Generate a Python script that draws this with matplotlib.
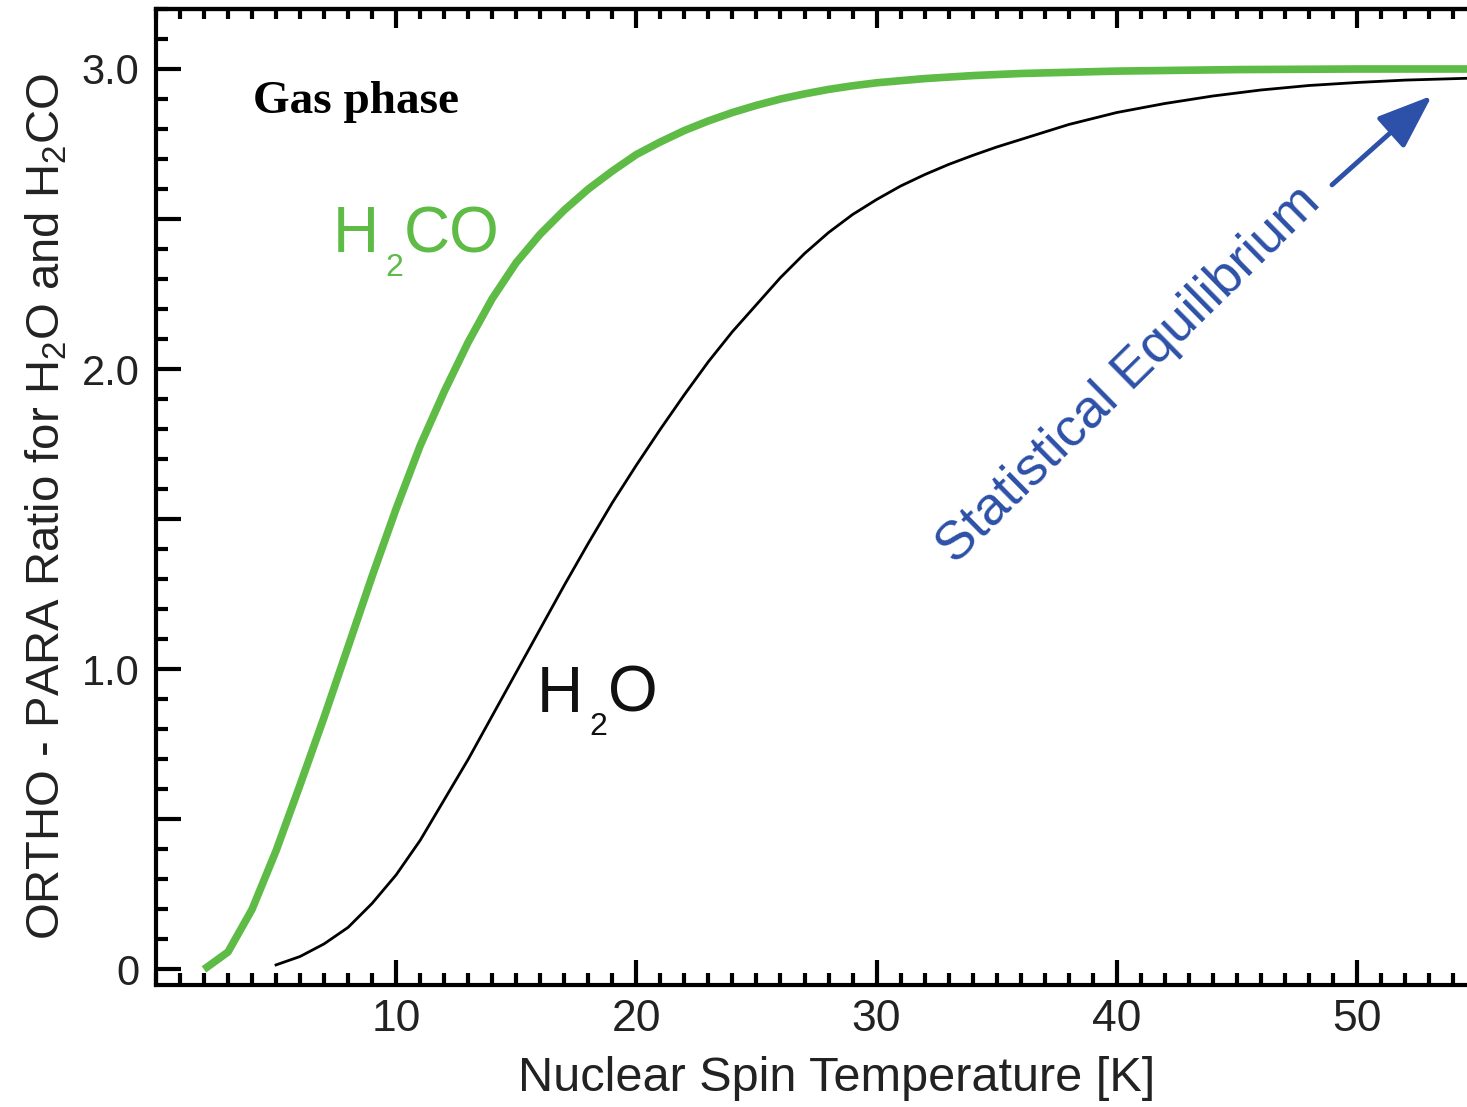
import numpy as np
import matplotlib
matplotlib.use("Agg")
import matplotlib.pyplot as plt
from matplotlib.ticker import MultipleLocator, FixedLocator, FuncFormatter

plt.rcParams["font.family"] = ["Liberation Sans", "DejaVu Sans"]

# ortho/para ratio vs nuclear spin temperature
temp_h2co = [2.0, 3.0, 4.0, 5.0, 6.0, 7.0, 8.0, 9.0, 10.0, 11.0, 12.0, 13.0,
             14.0, 15.0, 16.0, 17.0, 18.0, 19.0, 20.0, 21.0, 22.0, 23.0, 24.0,
             25.0, 26.0, 27.0, 28.0, 29.0, 30.0, 32.0, 34.0, 36.0, 40.0, 45.0,
             50.0, 55.0]
opr_h2co = [0.0, 0.058, 0.20, 0.395, 0.615, 0.84, 1.075, 1.31, 1.535, 1.745,
            1.925, 2.09, 2.235, 2.355, 2.45, 2.53, 2.60, 2.66, 2.715, 2.757,
            2.795, 2.827, 2.855, 2.879, 2.90, 2.917, 2.932, 2.944, 2.954,
            2.968, 2.978, 2.985, 2.993, 2.998, 3.0, 3.0]

temp_h2o = [5.0, 6.0, 7.0, 8.0, 9.0, 10.0, 11.0, 12.0, 13.0, 14.0, 15.0, 16.0,
            17.0, 18.0, 19.0, 20.0, 21.0, 22.0, 23.0, 24.0, 25.0, 26.0, 27.0,
            28.0, 29.0, 30.0, 31.0, 32.0, 33.0, 34.0, 35.0, 36.0, 38.0, 40.0,
            42.0, 44.0, 46.0, 48.0, 50.0, 52.0, 55.0]
opr_h2o = [0.015, 0.043, 0.085, 0.14, 0.22, 0.315, 0.43, 0.565, 0.70, 0.845,
           0.99, 1.135, 1.28, 1.42, 1.555, 1.68, 1.80, 1.915, 2.025, 2.125,
           2.215, 2.305, 2.385, 2.455, 2.515, 2.565, 2.61, 2.648, 2.682,
           2.712, 2.74, 2.765, 2.815, 2.855, 2.885, 2.91, 2.93, 2.945, 2.955,
           2.963, 2.97]

x_ticks = [10, 20, 30, 40, 50]
y_labelled = [0.0, 1.0, 2.0, 3.0]

GREEN = "#5dbb46"
BLUE = "#2d50a8"


def chem_label(ax, x, y, parts, size, color):
    """Draw a formula like H2O with real subscripts, piece by piece."""
    fig = ax.figure
    renderer = fig.canvas.get_renderer()
    dx = 0.0
    for s, sub in parts:
        if sub:
            t = ax.annotate(s, (x, y), xytext=(dx + size * 0.04, -size * 0.37),
                            textcoords="offset points", fontsize=size * 0.5,
                            ha="left", va="baseline", color=color)
        else:
            t = ax.annotate(s, (x, y), xytext=(dx, 0),
                            textcoords="offset points", fontsize=size,
                            ha="left", va="baseline", color=color)
        w = t.get_window_extent(renderer).width * 72.0 / fig.dpi
        dx += w + size * 0.06


fig = plt.figure(figsize=(14.67, 11.07), dpi=100)
ax = fig.add_axes([0.1063, 0.1102, 0.8937, 0.8817])

ax.plot(temp_h2co, opr_h2co, color=GREEN, lw=5.5, solid_capstyle="butt")
ax.plot(temp_h2o, opr_h2o, color="black", lw=2.0)

ax.set_xlim(0, 54.58)
ax.set_ylim(-0.052, 3.20)

for side in ("left", "bottom", "top"):
    ax.spines[side].set_linewidth(3)
ax.spines["right"].set_visible(False)

ax.xaxis.set_major_locator(FixedLocator(x_ticks))
ax.xaxis.set_minor_locator(MultipleLocator(1))
ax.yaxis.set_major_locator(MultipleLocator(0.5))
ax.yaxis.set_minor_locator(MultipleLocator(0.1))
ax.yaxis.set_major_formatter(FuncFormatter(
    lambda v, p: ("0" if abs(v) < 1e-9 else f"{v:.1f}")
    if any(abs(v - t) < 1e-9 for t in y_labelled) else ""))

ax.tick_params(which="major", direction="in", length=18, width=3,
               labelsize=30, labelcolor="#222222", top=False, right=False)
ax.tick_params(which="minor", direction="in", length=8.5, width=3,
               top=False, right=False)
ax.tick_params(axis="y", which="major", pad=12)
ax.tick_params(axis="x", which="major", pad=10, labelsize=32)

top = ax.secondary_xaxis("top")
top.xaxis.set_major_locator(FixedLocator(x_ticks))
top.xaxis.set_minor_locator(MultipleLocator(1))
top.tick_params(which="major", direction="in", length=14, width=3, labeltop=False)
top.tick_params(which="minor", direction="in", length=7, width=3)
top.spines["top"].set_linewidth(3)

ax.set_xlabel("Nuclear Spin Temperature [K]", fontsize=35, color="#222222")
ax.xaxis.set_label_coords(0.519, -0.073)
ax.set_ylabel(r"ORTHO - PARA Ratio for H$\mathregular{_2}$O and H$\mathregular{_2}$CO",
              fontsize=34, color="#222222")
ax.yaxis.set_label_coords(-0.066, 0.49)

ax.text(4.04, 2.89, "Gas phase", family="Liberation Serif", fontweight="bold",
        fontsize=34, va="center", ha="left", color="black")

chem_label(ax, 7.35, 2.39, [("H", False), ("2", True), ("CO", False)], 46, GREEN)
chem_label(ax, 15.85, 0.859, [("H", False), ("2", True), ("O", False)], 46, "#111111")

ax.text(40.5, 1.98, "Statistical Equilibrium", fontsize=39, color=BLUE,
        rotation=44.5, ha="center", va="center", rotation_mode="anchor")
ax.annotate("", xy=(53.12, 2.911), xytext=(48.96, 2.614),
            arrowprops=dict(arrowstyle="-|>,head_length=0.85,head_width=0.32",
                            mutation_scale=40, lw=3.5, color=BLUE,
                            shrinkA=0, shrinkB=0))

fig.savefig("out.png", dpi=100)
